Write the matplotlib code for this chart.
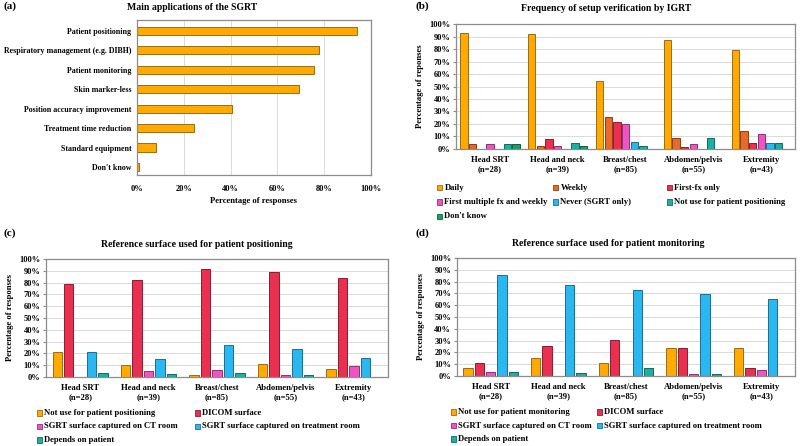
import numpy as np
import matplotlib.pyplot as plt
from matplotlib.patches import Rectangle
from matplotlib.ticker import PercentFormatter

plt.rcParams['font.family'] = ['Liberation Serif', 'DejaVu Serif']
plt.rcParams['font.weight'] = 'bold'
plt.rcParams['axes.labelweight'] = 'bold'
plt.rcParams['axes.titleweight'] = 'bold'

# (a) main applications
app_labels = ["Patient positioning", "Respiratory management (e.g. DIBH)", "Patient monitoring",
              "Skin marker-less", "Position accuracy improvement", "Treatment time reduction",
              "Standard equipment", "Don't know"]
app_values = [93.9, 77.6, 75.5, 69.4, 40.8, 24.5, 8.2, 1.0]

# shared site categories
sites = ["Head SRT\n(n=28)", "Head and neck\n(n=39)", "Breast/chest\n(n=85)",
         "Abdomen/pelvis\n(n=55)", "Extremity\n(n=43)"]

# (b) IGRT frequency
igrt_names = ["Daily", "Weekly", "First-fx only", "First multiple fx and weekly",
              "Never (SGRT only)", "Not use for patient positioning", "Don't know"]
igrt_daily = [92.9, 92.3, 54.1, 87.3, 79.1]
igrt_weekly = [3.6, 2.6, 25.9, 9.1, 14.0]
igrt_firstfx = [0.0, 7.7, 21.2, 1.8, 4.7]
igrt_multi = [3.6, 2.6, 20.0, 3.6, 11.6]
igrt_never = [0.0, 0.0, 5.9, 0.0, 4.7]
igrt_notuse = [3.6, 5.1, 2.4, 9.1, 4.7]
igrt_dontknow = [3.6, 2.6, 0.0, 0.0, 0.0]

# (c) reference surface for positioning
pos_names = ["Not use for patient positioning", "DICOM surface", "SGRT surface captured on CT room",
             "SGRT surface captured on treatment room", "Depends on patient"]
pos_notuse = [21.4, 10.3, 1.2, 10.9, 7.0]
pos_dicom = [78.6, 82.1, 91.8, 89.1, 83.7]
pos_ct = [0.0, 5.1, 5.9, 1.8, 9.3]
pos_treat = [21.4, 15.4, 27.1, 23.6, 16.3]
pos_depends = [3.6, 2.6, 3.5, 1.8, 0.0]

# (d) reference surface for monitoring
mon_names = ["Not use for patient monitoring", "DICOM surface", "SGRT surface captured on CT room",
             "SGRT surface captured on treatment room", "Depends on patient"]
mon_notuse = [7.1, 15.4, 10.6, 23.6, 23.3]
mon_dicom = [10.7, 25.6, 30.6, 23.6, 7.0]
mon_ct = [3.6, 0.0, 0.0, 1.8, 4.7]
mon_treat = [85.7, 76.9, 72.9, 69.1, 65.1]
mon_depends = [3.6, 2.6, 7.1, 1.8, 0.0]

c_orange, e_orange = "#FFAA00", "#9A6B10"
c_weekly, e_weekly = "#E8692A", "#8A3E18"
c_red, e_red = "#EA3050", "#8A1E30"
c_pink, e_pink = "#EE55C0", "#8E3272"
c_blue, e_blue = "#2BB7F0", "#1A6E90"
c_teal, e_teal = "#1AB0A2", "#106A62"
c_green, e_green = "#1A9E6A", "#105E40"

spine_col = "#8C8C8C"
grid_col = "#DADADA"
FS = 6.2

W, H = 800, 446
fig = plt.figure(figsize=(8, 4.46), dpi=100)


def style_axes(ax):
    for s in ax.spines.values():
        s.set_color(spine_col)
        s.set_linewidth(0.9)
    ax.set_axisbelow(True)


def grouped(ax, series, colors, edges, width, step):
    x = np.arange(len(sites))
    n = len(series)
    for i, vals in enumerate(series):
        off = (i - (n - 1) / 2) * step
        ax.bar(x + off, vals, width, color=colors[i], edgecolor=edges[i], linewidth=0.7)
    ax.set_xlim(-0.5, len(sites) - 0.5)
    ax.set_ylim(0, 100)
    ax.set_yticks(np.arange(0, 101, 10))
    ax.yaxis.set_major_formatter(PercentFormatter(decimals=0))
    ax.yaxis.grid(True, color=grid_col, linewidth=0.7)
    ax.set_xticks(x)
    ax.set_xticklabels(sites, fontsize=FS, linespacing=1.2)
    ax.tick_params(axis='x', length=0, pad=5)
    ax.tick_params(axis='y', labelsize=6.0, length=2, color=spine_col, pad=2)
    style_axes(ax)


def legend_rows(names, colors, edges, cols_px, rows_px):
    # entries laid out row by row, like the spreadsheet legend
    ncol = len(cols_px)
    for i, name in enumerate(names):
        xp = cols_px[i % ncol]
        yp = rows_px[i // ncol]
        fig.patches.append(Rectangle((xp / W, 1 - (yp + 2.6) / H), 5.2 / W, 5.2 / H,
                                     transform=fig.transFigure, facecolor=colors[i],
                                     edgecolor=edges[i], linewidth=0.6))
        fig.text((xp + 7.5) / W, 1 - yp / H, name, ha='left', va='center', fontsize=FS)


# ---- (a)
ax_a = fig.add_axes([0.171, 0.608, 0.293, 0.347])
ya = np.arange(len(app_labels))
ax_a.barh(ya, app_values, 0.42, color=c_orange, edgecolor=e_orange, linewidth=0.7)
ax_a.set_ylim(7.4, -0.55)
ax_a.set_xlim(0, 100)
ax_a.set_yticks(ya)
ax_a.set_yticklabels(app_labels, fontsize=5.7)
ax_a.set_xticks(np.arange(0, 101, 20))
ax_a.xaxis.set_major_formatter(PercentFormatter(decimals=0))
ax_a.xaxis.grid(True, color=grid_col, linewidth=0.7)
ax_a.tick_params(axis='y', length=0, pad=4)
ax_a.tick_params(axis='x', length=0, labelsize=6.0, pad=7)
ax_a.set_xlabel("Percentage of responses", fontsize=FS, labelpad=3)
style_axes(ax_a)

# ---- (b)
ax_b = fig.add_axes([0.570, 0.666, 0.424, 0.280])
igrt_colors = [c_orange, c_weekly, c_red, c_pink, c_blue, c_teal, c_green]
igrt_edges = [e_orange, e_weekly, e_red, e_pink, e_blue, e_teal, e_green]
grouped(ax_b, [igrt_daily, igrt_weekly, igrt_firstfx, igrt_multi, igrt_never, igrt_notuse, igrt_dontknow],
        igrt_colors, igrt_edges, 0.108, 0.128)
ax_b.set_ylabel("Percentage of reponses", fontsize=FS, labelpad=4)
legend_rows(igrt_names, igrt_colors, igrt_edges, [437, 553, 667], [187.5, 202, 216.5])

# ---- (c)
surf_colors = [c_orange, c_red, c_pink, c_blue, c_teal]
surf_edges = [e_orange, e_red, e_pink, e_blue, e_teal]
ax_c = fig.add_axes([0.0575, 0.155, 0.4275, 0.264])
grouped(ax_c, [pos_notuse, pos_dicom, pos_ct, pos_treat, pos_depends],
        surf_colors, surf_edges, 0.138, 0.167)
ax_c.set_ylabel("Percentage of responses", fontsize=FS, labelpad=4)
legend_rows(pos_names, surf_colors, surf_edges, [37, 195], [413, 426.5, 440])

# ---- (d)
ax_d = fig.add_axes([0.571, 0.157, 0.423, 0.2645])
grouped(ax_d, [mon_notuse, mon_dicom, mon_ct, mon_treat, mon_depends],
        surf_colors, surf_edges, 0.138, 0.167)
ax_d.set_ylabel("Percentage of responses", fontsize=FS, labelpad=4)
legend_rows(mon_names, surf_colors, surf_edges, [451, 597], [412, 425.5, 439])

# titles and panel letters
fig.text(0.24, 0.983, "Main applications of the SGRT", ha='center', va='center', fontsize=7.0)
fig.text(0.758, 0.980, "Frequency of setup verification by IGRT", ha='center', va='center', fontsize=7.0)
fig.text(0.246, 0.451, "Reference surface used for patient positioning", ha='center', va='center', fontsize=7.0)
fig.text(0.76, 0.453, "Reference surface used for patient monitoring", ha='center', va='center', fontsize=7.0)
fig.text(0.004, 0.985, "(a)", ha='left', va='center', fontsize=8.0)
fig.text(0.519, 0.985, "(b)", ha='left', va='center', fontsize=8.0)
fig.text(0.004, 0.478, "(c)", ha='left', va='center', fontsize=8.0)
fig.text(0.519, 0.478, "(d)", ha='left', va='center', fontsize=8.0)

fig.savefig("out.png", dpi=100)
